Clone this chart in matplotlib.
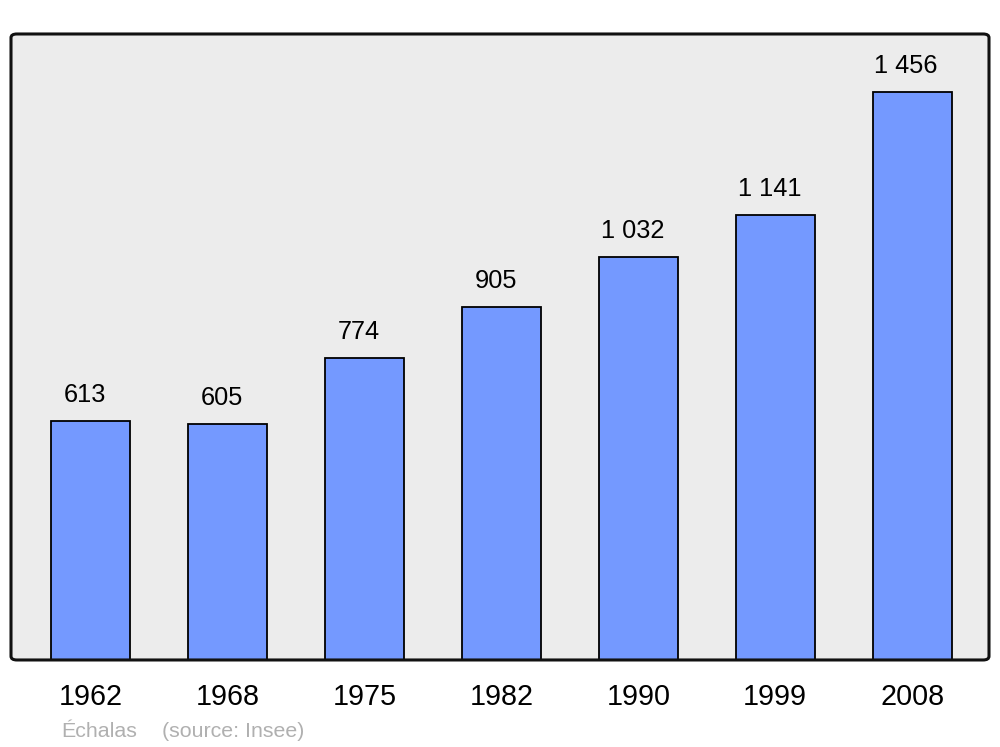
import matplotlib
matplotlib.use('Agg')
import matplotlib.pyplot as plt
from matplotlib.patches import FancyBboxPatch

years = ['1962', '1968', '1975', '1982', '1990', '1999', '2008']
population = [613, 605, 774, 905, 1032, 1141, 1456]

plt.rcParams['font.family'] = ['Liberation Sans', 'DejaVu Sans']

fig = plt.figure(figsize=(10, 7.47), dpi=100)
ax = fig.add_axes([0.011, 0.1165, 0.978, 0.838])
ax.set_facecolor('#ececec')

x = range(len(years))
ax.bar(x, population, width=0.577, color='#7499ff', edgecolor='black',
       linewidth=1.3, zorder=2)

for xi, v in zip(x, population):
    label = f'{v:,}'.replace(',', ' ')
    ax.annotate(label, (xi, v), xytext=(-4.3, 13.7), textcoords='offset points',
                ha='center', va='baseline', fontsize=18.3)

ax.set_xlim(-0.584, 6.562)
ax.set_ylim(0, 1605)
ax.set_yticks([])
ax.set_xticks(list(x))
ax.set_xticklabels(years, fontsize=20.7)
ax.tick_params(axis='x', length=0, pad=16.5)
for s in ax.spines.values():
    s.set_visible(False)

# rounded frame around the plot area
frame = FancyBboxPatch((0, 0), 1, 1, boxstyle='round,pad=0,rounding_size=0.006',
                       transform=ax.transAxes, fill=False, edgecolor='#111111',
                       linewidth=2.2, zorder=5, clip_on=False)
ax.add_patch(frame)

fig.text(0.061, 1 - 737 / 747, 'Échalas', fontsize=15.4, color='#b0b0b0',
         ha='left', va='baseline')
fig.text(0.162, 1 - 737 / 747, '(source: Insee)', fontsize=15.4, color='#b0b0b0',
         ha='left', va='baseline')

fig.savefig('out.png', dpi=100, facecolor='white')
